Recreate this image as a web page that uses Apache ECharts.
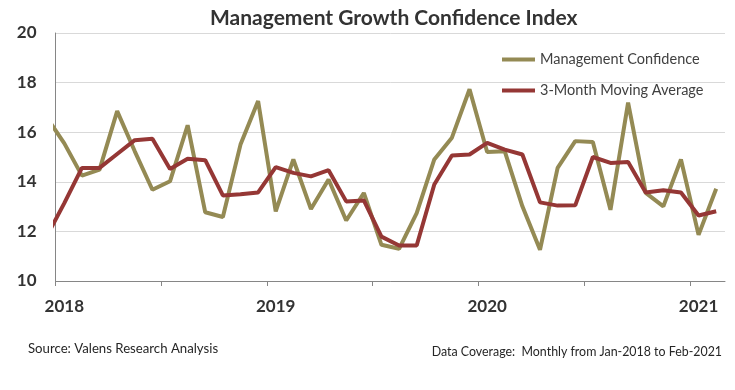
<!DOCTYPE html>
<html><head><meta charset="utf-8">
<script src="https://cdn.jsdelivr.net/npm/echarts@6/dist/echarts.min.js"></script>
<style>html,body{margin:0;padding:0;background:#fff}#c{width:735px;height:390px}</style>
</head><body><div id="c"></div>
<script>
// Monthly observations (Dec-2017 point only partly visible at the left edge)
const months = ['2017-12',
  '2018-01','2018-02','2018-03','2018-04','2018-05','2018-06','2018-07','2018-08','2018-09','2018-10','2018-11','2018-12',
  '2019-01','2019-02','2019-03','2019-04','2019-05','2019-06','2019-07','2019-08','2019-09','2019-10','2019-11','2019-12',
  '2020-01','2020-02','2020-03','2020-04','2020-05','2020-06','2020-07','2020-08','2020-09','2020-10','2020-11','2020-12',
  '2021-01','2021-02'];
const confidence = [16.6,
  15.55,14.25,14.49,16.85,15.23,13.68,14.02,16.28,12.77,12.58,15.5,17.26,
  12.81,14.9,12.9,14.09,12.44,13.55,11.46,11.3,12.74,14.9,15.78,17.73,
  15.2,15.23,13.01,11.26,14.56,15.64,15.6,12.87,17.19,13.55,13.01,14.9,
  11.86,13.72];
const movingAvg = [11.8,
  13.14,14.56,14.56,15.12,15.68,15.74,14.52,14.93,14.87,13.45,13.5,13.57,
  14.59,14.36,14.22,14.47,13.21,13.25,11.79,11.43,11.43,13.89,15.06,15.1,
  15.57,15.3,15.1,13.17,13.04,13.05,15.0,14.76,14.8,13.57,13.66,13.57,
  12.64,12.81];
const yearLabels = ['2018','2019','2020','2021'];
const seriesNames = ['Management Confidence','3-Month Moving Average'];

const FONT = 'Lato';
function monthPos(s){ const [y,m] = s.split('-').map(Number); return (y-2018)*12 + (m-1) + 0.5; }
const toPairs = vals => months.map((m,i)=>[monthPos(m), vals[i]]);

const chart = echarts.init(document.getElementById('c'));
chart.setOption({
  animation:false,
  backgroundColor:'#fff',
  textStyle:{fontFamily:FONT},
  title:{text:'Management Growth Confidence Index', left:205, top:3,
    textStyle:{fontSize:21, fontWeight:'bold', color:'#333', fontFamily:FONT}},
  grid:{left:55.5, right:10, top:33, bottom:109, containLabel:false},
  legend:{orient:'vertical', left:497, top:47, itemWidth:33, itemHeight:4, icon:'rect', itemGap:16,
    textStyle:{fontSize:14.5, color:'#404040', fontFamily:FONT}, data:seriesNames},
  xAxis:{type:'value', min:0, max:38, interval:6,
    axisLine:{show:true, lineStyle:{color:'#868686', width:1}},
    axisTick:{show:true, length:5, lineStyle:{color:'#868686'}, customValues:[0,6,12,18,24,30,36]},
    axisLabel:{customValues:yearLabels.map((y,i)=>i*12+0.5),
      formatter:v=>yearLabels[Math.round((v-0.5)/12)],
      fontSize:17, fontWeight:'bold', color:'#333', margin:17, fontFamily:FONT},
    splitLine:{show:false}},
  yAxis:{type:'value', min:10, max:20, interval:2,
    axisLine:{show:true, lineStyle:{color:'#868686', width:1}},
    axisTick:{show:false},
    axisLabel:{fontSize:17, fontWeight:'bold', color:'#333', margin:19, fontFamily:FONT},
    splitLine:{lineStyle:{color:'#d9d9d9', width:1}}},
  series:[
    {name:seriesNames[0], type:'line', data:toPairs(confidence), showSymbol:false, clip:true,
      color:'#948a54', lineStyle:{width:4, color:'#948a54'}},
    {name:seriesNames[1], type:'line', data:toPairs(movingAvg), showSymbol:false, clip:true,
      color:'#953735', lineStyle:{width:4, color:'#953735'}}
  ],
  graphic:[
    {type:'text', left:28, top:342, style:{text:'Source: Valens Research Analysis', fontSize:13.2, fill:'#262626', fontFamily:FONT}},
    {type:'text', right:13, top:346, style:{text:'Data Coverage:  Monthly from Jan-2018 to Feb-2021', fontSize:12.4, fill:'#262626', fontFamily:FONT}}
  ]
});
</script></body></html>
